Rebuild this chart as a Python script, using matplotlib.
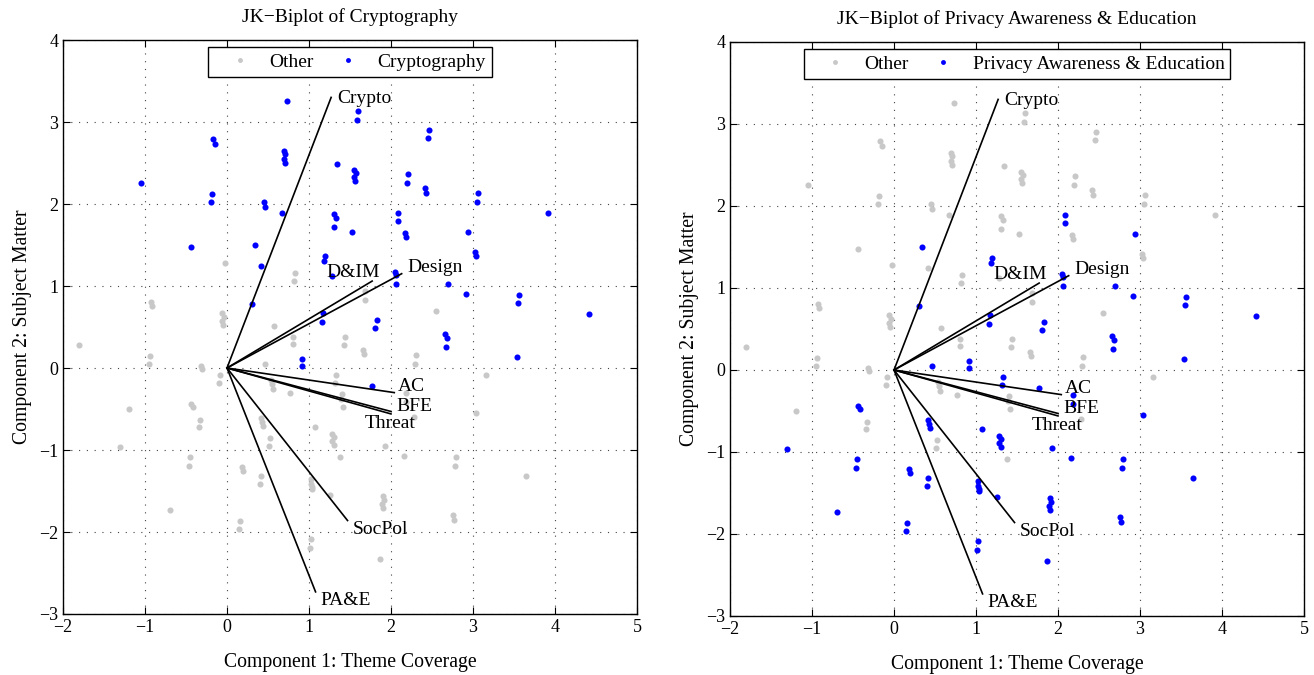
import numpy as np
import matplotlib.pyplot as plt

plt.rcParams['font.family'] = ['Liberation Serif', 'DejaVu Serif']

# ---------------------------------------------------------------------------
# Data
# ---------------------------------------------------------------------------
pc1 = np.array([
    0.73, 1.60, 1.59, 2.46, 2.45, -0.17, -0.15, 0.69, 0.71, 0.69,
    0.71, 1.34, 1.55, 1.57, 1.55, 1.56, 2.21, 2.20, -1.045, 2.41,
    2.43, 3.06, 3.05, -0.18, -0.20, 0.45, 0.46, 3.92, 2.09, 2.08,
    0.675, 1.31, 1.33, 1.31, 1.53, 2.17, 2.18, 2.945, 3.02, 3.04,
    -0.435, 0.345, 0.42, 1.195, 1.18, -0.03, 1.28, 2.045, 2.065, 2.06,
    2.70, 0.825, 0.817, 2.92, 3.56, 3.55, 1.686, 1.678, -0.93, -0.91,
    0.30, 1.17, 1.16, -0.06, -0.04, -0.06, -0.05, 0.577, 4.41, 2.546,
    1.825, 1.81, 2.66, 2.68, 2.67, 3.54, -1.81, 0.81, 0.80, 1.44,
    1.43, 1.655, 1.67, 2.30, 2.29, -0.943, -0.947, 0.92, 0.92, 0.46,
    -0.32, -0.30, -0.09, -0.10, 1.33, 1.32, 3.16, 0.54, 0.55, 0.56,
    0.77, 1.77, 1.40, 1.39, 1.41, 2.18, 2.18, 2.28, 3.04, -1.195,
    -0.435, -0.415, -0.33, -0.34, 0.42, 0.43, 0.44, 1.07, 1.28, 1.30,
    1.28, 1.30, 0.52, 0.51, 1.93, 1.38, 2.16, 2.79, 2.78, -1.31,
    -0.45, -0.46, 0.18, 0.19, 0.41, 0.40, 1.03, 1.03, 1.04, 1.04,
    3.65, 1.26, 1.90, 1.91, 1.89, 1.90, -0.70, 2.75, 2.77, 0.163,
    0.15, 1.02, 1.01, 1.87,
])
pc2 = np.array([
    3.26, 3.13, 3.03, 2.90, 2.80, 2.79, 2.73, 2.65, 2.61, 2.55,
    2.50, 2.49, 2.41, 2.38, 2.33, 2.28, 2.36, 2.26, 2.26, 2.19,
    2.14, 2.13, 2.02, 2.12, 2.02, 2.02, 1.96, 1.89, 1.89, 1.79,
    1.89, 1.88, 1.83, 1.72, 1.66, 1.65, 1.60, 1.66, 1.42, 1.37,
    1.48, 1.50, 1.25, 1.37, 1.31, 1.28, 1.12, 1.17, 1.14, 1.03,
    1.03, 1.16, 1.06, 0.90, 0.89, 0.79, 0.935, 0.825, 0.80, 0.76,
    0.78, 0.67, 0.56, 0.67, 0.62, 0.57, 0.52, 0.51, 0.655, 0.695,
    0.59, 0.49, 0.41, 0.36, 0.26, 0.13, 0.28, 0.38, 0.29, 0.38,
    0.28, 0.22, 0.165, 0.155, 0.05, 0.146, 0.049, 0.114, 0.02, 0.05,
    0.03, -0.016, -0.08, -0.18, -0.08, -0.18, -0.08, -0.15, -0.20, -0.25,
    -0.31, -0.22, -0.32, -0.38, -0.47, -0.31, -0.41, -0.60, -0.545, -0.50,
    -0.435, -0.48, -0.63, -0.72, -0.61, -0.66, -0.71, -0.72, -0.81, -0.84,
    -0.89, -0.94, -0.85, -0.955, -0.955, -1.08, -1.07, -1.085, -1.19, -0.96,
    -1.09, -1.19, -1.21, -1.26, -1.32, -1.42, -1.35, -1.41, -1.45, -1.48,
    -1.32, -1.55, -1.56, -1.61, -1.66, -1.71, -1.73, -1.79, -1.85, -1.87,
    -1.96, -2.09, -2.20, -2.33,
])
# theme membership flags (1 = paper belongs to the theme)
is_crypto = np.array([
    1, 1, 1, 1, 1, 1, 1, 1, 1, 1,
    1, 1, 1, 1, 1, 1, 1, 1, 1, 1,
    1, 1, 1, 1, 1, 1, 1, 1, 1, 1,
    1, 1, 1, 1, 1, 1, 1, 1, 1, 1,
    1, 1, 1, 1, 1, 0, 1, 1, 1, 1,
    1, 0, 0, 1, 1, 1, 0, 0, 0, 0,
    1, 1, 1, 0, 0, 0, 0, 0, 1, 0,
    1, 1, 1, 1, 1, 1, 0, 0, 0, 0,
    0, 0, 0, 0, 0, 0, 0, 1, 1, 0,
    0, 0, 0, 0, 0, 0, 0, 0, 0, 0,
    0, 1, 0, 0, 0, 0, 0, 0, 0, 0,
    0, 0, 0, 0, 0, 0, 0, 0, 0, 0,
    0, 0, 0, 0, 0, 0, 0, 0, 0, 0,
    0, 0, 0, 0, 0, 0, 0, 0, 0, 0,
    0, 0, 0, 0, 0, 0, 0, 0, 0, 0,
    0, 0, 0, 0,
], dtype=bool)
is_pae = np.array([
    0, 0, 0, 0, 0, 0, 0, 0, 0, 0,
    0, 0, 0, 0, 0, 0, 0, 0, 0, 0,
    0, 0, 0, 0, 0, 0, 0, 0, 1, 1,
    0, 0, 0, 0, 0, 0, 0, 1, 0, 0,
    0, 1, 0, 1, 1, 0, 0, 1, 1, 1,
    1, 0, 0, 1, 1, 1, 0, 0, 0, 0,
    1, 1, 1, 0, 0, 0, 0, 0, 1, 0,
    1, 1, 1, 1, 1, 1, 0, 0, 0, 0,
    0, 0, 0, 0, 0, 0, 0, 1, 1, 1,
    0, 0, 0, 0, 1, 1, 0, 0, 0, 0,
    0, 1, 0, 0, 0, 1, 1, 0, 1, 0,
    1, 1, 0, 0, 1, 1, 1, 1, 1, 1,
    1, 1, 0, 0, 1, 0, 1, 1, 1, 1,
    1, 1, 1, 1, 1, 1, 1, 1, 1, 1,
    1, 1, 1, 1, 1, 1, 1, 1, 1, 1,
    1, 1, 1, 1,
], dtype=bool)

# loading vectors (end points) and their labels
vec_names = ['Crypto', 'Design', 'D&IM', 'AC', 'BFE', 'Threat', 'SocPol', 'PA&E']
vec_x = [1.27, 2.13, 1.77, 2.04, 2.00, 2.00, 1.47, 1.08]
vec_y = [3.30, 1.15, 1.06, -0.30, -0.53, -0.56, -1.86, -2.73]

# where each vector label sits (data coords) and its alignment
lab_x = [1.34, 2.20, 1.54, 2.08, 2.07, 1.985, 1.53, 1.14]
lab_y = [3.29, 1.23, 1.165, -0.22, -0.47, -0.675, -1.975, -2.84]
lab_ha = ['left', 'left', 'center', 'left', 'left', 'center', 'left', 'left']

panels = [
    ('JK\u2212Biplot of Cryptography', 'Cryptography', is_crypto,
     [63 / 1314, 1 - 614 / 675, 574 / 1314, 574 / 675]),
    ('JK\u2212Biplot of Privacy Awareness & Education',
     'Privacy Awareness & Education', is_pae,
     [730 / 1314, 1 - 616 / 675, 574 / 1314, 574 / 675]),
]

GRAY = '#c8c8c8'
BLUE = '#0000ff'

fig = plt.figure(figsize=(13.14, 6.75), dpi=100)

for title, theme, mask, rect in panels:
    ax = fig.add_axes(rect)

    ax.plot(pc1[~mask], pc2[~mask], 'o', color=GRAY, markersize=4.4,
            markeredgewidth=0, label='Other', zorder=2)
    ax.plot(pc1[mask], pc2[mask], 'o', color=BLUE, markersize=4.4,
            markeredgewidth=0, label=theme, zorder=3)

    # loading vectors from origin
    for vx, vy in zip(vec_x, vec_y):
        ax.plot([0, vx], [0, vy], color='black', linewidth=1.2, zorder=4)
    for name, tx, ty, ha in zip(vec_names, lab_x, lab_y, lab_ha):
        ax.text(tx, ty, name, ha=ha, va='center', fontsize=14, zorder=5)

    ax.set_xlim(-2, 5)
    ax.set_ylim(-3, 4)
    ax.set_xticks(range(-2, 6))
    ax.set_yticks(range(-3, 5))
    ax.tick_params(direction='in', top=True, right=True, length=5,
                   labelsize=13, width=0.8)
    ax.grid(True, color='#444444', linestyle=(0, (1, 6)), linewidth=0.8)
    ax.set_axisbelow(True)
    for sp in ax.spines.values():
        sp.set_linewidth(1.0)

    ax.set_title(title, fontsize=14, pad=13)
    ax.set_xlabel('Component 1: Theme Coverage', fontsize=14.2, labelpad=12)
    ax.set_ylabel('Component 2: Subject Matter', fontsize=14.2, labelpad=5)

    leg = ax.legend(loc='upper center', ncol=2, fontsize=14, frameon=True,
                    fancybox=False, edgecolor='black', framealpha=1,
                    handlelength=2.6, handletextpad=0.2, columnspacing=0.5,
                    borderaxespad=0.38, borderpad=0.3, markerscale=0.8)
    leg.get_frame().set_linewidth(1.0)

fig.savefig('out.png', dpi=100)
